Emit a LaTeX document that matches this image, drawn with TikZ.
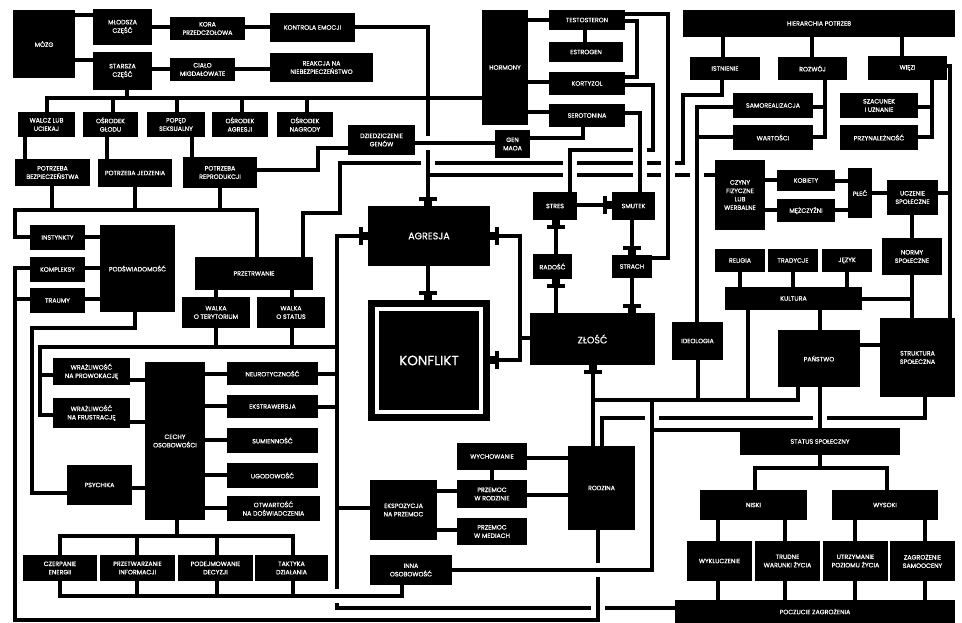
\documentclass[tikz,border=0pt]{standalone}
\usepackage{fontspec}
\setmainfont{Poppins}[FakeBold=0.5]
\usetikzlibrary{arrows.meta}
\newcommand\Bx[6]{\pgfmathsetmacro\bxw{#4-#2}\pgfmathsetmacro\bxh{#5-#3}\pgfmathsetmacro\bxx{(#2+#4)/2}\pgfmathsetmacro\bxy{(#3+#5)/2}\node[bx,minimum width=\bxw pt,minimum height=\bxh pt] (#1) at (\bxx,\bxy) {#6};}
\newcommand\hc[3]{\draw[ln] (#1.east |- 0,#3) -- (#2.west |- 0,#3);}
\newcommand\vc[3]{\draw[ln] (#1.south -| #3,0) -- (#2.north -| #3,0);}
\newcommand\brV[2]{\draw[ln,preaction={draw=white,line width=14pt}] (#1,#2) ++(0,-6) -- ++(0,12);}
\newcommand\brH[2]{\draw[ln,preaction={draw=white,line width=14pt}] (#1,#2) ++(-6,0) -- ++(12,0);}
\tikzset{
  bx/.style={fill=black, text=white, align=center, inner sep=0.5pt, font=\fontsize{6.3}{8.4}\selectfont},
  ln/.style={line width=3.8pt, line join=miter},
  arr/.style={-{Rectangle[width=18pt,length=4pt,sep=0pt]Rectangle[width=8pt,length=5pt,sep=0pt]}}
}
\begin{document}
\begin{tikzpicture}[x=1pt,y=-1pt]
\fill[white] (0,0) rectangle (962,623);
\useasboundingbox (0,0) rectangle (962,623);
% ---------- boxes ----------
\Bx{mozg}{13}{10}{75}{78}{MÓZG}
\Bx{mlodsza}{93}{9}{152}{45}{MŁODSZA\\CZĘŚĆ}
\Bx{kora}{170}{17}{245}{40}{KORA\\PRZEDCZOŁOWA}
\Bx{kontrola}{270}{13}{355}{42}{KONTROLA EMOCJI}
\Bx{starsza}{93}{52}{152}{90}{STARSZA\\CZĘŚĆ}
\Bx{cialo}{170}{58}{235}{81}{CIAŁO\\MIGDAŁOWATE}
\Bx{reakcja}{270}{53}{373}{82}{REAKCJA NA\\NIEBEZPIECZEŃSTWO}
\Bx{walcz}{18}{112}{75}{137}{WALCZ LUB\\UCIEKAJ}
\Bx{glod}{83}{112}{138}{137}{OŚRODEK\\GŁODU}
\Bx{poped}{147}{112}{205}{137}{POPĘD\\SEKSUALNY}
\Bx{oagr}{212}{112}{268}{137}{OŚRODEK\\AGRESJI}
\Bx{nagrody}{277}{112}{333}{137}{OŚRODEK\\NAGRODY}
\Bx{pbez}{15}{159}{90}{186}{POTRZEBA\\BEZPIECZEŃSTWA}
\Bx{pjedz}{98}{159}{172}{187}{POTRZEBA JEDZENIA}
\Bx{prep}{183}{157}{257}{188}{POTRZEBA\\REPRODUKCJI}
\Bx{dziedz}{348}{125}{415}{155}{DZIEDZICZENIE\\GENÓW}
\Bx{hormony}{482}{10}{528}{125}{HORMONY}
\Bx{testo}{549}{10}{625}{30}{TESTOSTERON}
\Bx{estro}{549}{42}{623}{62}{ESTROGEN}
\Bx{kortyzol}{549}{72}{625}{95}{KORTYZOL}
\Bx{sero}{549}{104}{625}{127}{SEROTONINA}
\Bx{gen}{495}{130}{530}{158}{GEN\\MAOA}
\Bx{hier}{683}{10}{955}{37}{HIERARCHIA POTRZEB}
\Bx{istn}{690}{57}{760}{80}{ISTNIENIE}
\Bx{rozwoj}{778}{57}{847}{80}{ROZWÓJ}
\Bx{wiezi}{868}{56}{947}{80}{WIĘZI}
\Bx{samo}{733}{93}{813}{118}{SAMOREALIZACJA}
\Bx{wart}{733}{125}{813}{150}{WARTOŚCI}
\Bx{szac}{840}{93}{918}{118}{SZACUNEK\\I UZNANIE}
\Bx{przyn}{840}{125}{918}{150}{PRZYNALEŻNOŚĆ}
\Bx{czyny}{715}{160}{765}{230}{CZYNY\\FIZYCZNE\\LUB\\WERBALNE}
\Bx{kob}{777}{170}{835}{191}{KOBIETY}
\Bx{mez}{777}{199}{835}{222}{MĘŻCZYŹNI}
\Bx{plec}{848}{168}{872}{218}{PŁEĆ}
\Bx{uczenie}{887}{180}{938}{215}{UCZENIE\\SPOŁECZNE}
\Bx{normy}{882}{238}{942}{275}{NORMY\\SPOŁECZNE}
\Bx{religia}{715}{249}{765}{272}{RELIGIA}
\Bx{trad}{768}{249}{818}{272}{TRADYCJE}
\Bx{jezyk}{822}{249}{872}{272}{JĘZYK}
\Bx{kultura}{725}{287}{862}{310}{KULTURA}
\Bx{ideologia}{672}{322}{723}{360}{IDEOLOGIA}
\Bx{panstwo}{778}{330}{860}{387}{PAŃSTWO}
\Bx{struktura}{880}{318}{955}{397}{STRUKTURA\\SPOŁECZNA}
\Bx{status}{740}{428}{900}{455}{STATUS SPOŁECZNY}
\Bx{niski}{700}{490}{807}{520}{NISKI}
\Bx{wysoki}{832}{490}{938}{520}{WYSOKI}
\Bx{wyk}{687}{541}{752}{581}{WYKLUCZENIE}
\Bx{trudne}{755}{541}{820}{581}{TRUDNE\\WARUNKI ŻYCIA}
\Bx{utrz}{823}{541}{888}{581}{UTRZYMANIE\\POZIOMU ŻYCIA}
\Bx{zagr}{890}{541}{955}{581}{ZAGROŻENIE\\SAMOOCENY}
\Bx{poczucie}{675}{600}{955}{623}{POCZUCIE ZAGROŻENIA}
\Bx{instynkty}{30}{225}{85}{250}{INSTYNKTY}
\Bx{kompleksy}{30}{257}{85}{282}{KOMPLEKSY}
\Bx{traumy}{30}{288}{85}{313}{TRAUMY}
\Bx{podsw}{100}{225}{175}{312}{PODŚWIADOMOŚĆ}
\Bx{przetrw}{195}{257}{313}{290}{PRZETRWANIE}
\Bx{wter}{182}{297}{250}{328}{WALKA\\O TERYTORIUM}
\Bx{wstat}{257}{297}{325}{328}{WALKA\\O STATUS}
\Bx{wprow}{53}{358}{130}{385}{WRAŻLIWOŚĆ\\NA PROWOKACJĘ}
\Bx{wfrus}{53}{398}{130}{428}{WRAŻLIWOŚĆ\\NA FRUSTRACJĘ}
\Bx{psych}{67}{465}{132}{505}{PSYCHIKA}
\Bx{cechy}{145}{362}{205}{520}{CECHY\\OSOBOWOŚCI}
\Bx{neuro}{227}{362}{318}{385}{NEUROTYCZNOŚĆ}
\Bx{ekstra}{227}{395}{318}{418}{EKSTRAWERSJA}
\Bx{sumien}{227}{428}{318}{453}{SUMIENNOŚĆ}
\Bx{ugod}{227}{463}{318}{488}{UGODOWOŚĆ}
\Bx{otw}{227}{496}{320}{521}{OTWARTOŚĆ\\NA DOŚWIADCZENIA}
\Bx{czerp}{23}{555}{97}{581}{CZERPANIE\\ENERGII}
\Bx{przetw}{100}{555}{175}{581}{PRZETWARZANIE\\INFORMACJI}
\Bx{podej}{178}{555}{253}{581}{PODEJMOWANIE\\DECYZJI}
\Bx{takt}{255}{555}{328}{581}{TAKTYKA\\DZIAŁANIA}
\Bx{agresja}{368}{206}{490}{266}{{\fontsize{9.5}{11}\selectfont AGRESJA}}
\Bx{konflikt}{368}{300}{490}{421}{{\fontsize{13.5}{15}\selectfont KONFLIKT}}
\Bx{zlosc}{530}{313}{655}{365}{{\fontsize{9.5}{11}\selectfont ZŁOŚĆ}}
\Bx{stres}{533}{192}{577}{220}{STRES}
\Bx{smutek}{612}{192}{655}{220}{SMUTEK}
\Bx{radosc}{533}{254}{572}{279}{RADOŚĆ}
\Bx{strach}{612}{255}{652}{278}{STRACH}
\Bx{ekspo}{370}{480}{437}{540}{EKSPOZYCJA\\NA PRZEMOC}
\Bx{wych}{457}{443}{527}{470}{WYCHOWANIE}
\Bx{prodz}{457}{480}{527}{508}{PRZEMOC\\W RODZINIE}
\Bx{pmed}{457}{518}{527}{545}{PRZEMOC\\W MEDIACH}
\Bx{rodzina}{568}{446}{635}{530}{RODZINA}
\Bx{inna}{370}{555}{452}{585}{INNA\\OSOBOWOŚĆ}
\draw[white, line width=3.5pt] ([shift={(9,9)}]konflikt.north west) rectangle ([shift={(-9,-9)}]konflikt.south east);
% ---------- connectors: top left ----------
\hc{mozg}{mlodsza}{15}
\hc{mozg}{starsza}{60}
\hc{mlodsza}{kora}{27}
\hc{kora}{kontrola}{27}
\hc{starsza}{cialo}{69}
\hc{cialo}{reakcja}{69}
\draw[ln] (starsza.south -| 127,0) -- (127,98);
\draw[ln] (walcz.north -| 47,0) |- (hormony.west |- 0,98);
\draw[ln] (glod.north -| 113,0) -- (113,98);
\draw[ln] (poped.north -| 177,0) -- (177,98);
\draw[ln] (oagr.north -| 242,0) -- (242,98);
\draw[ln] (nagrody.north -| 307,0) -- (307,98);
\vc{walcz}{pbez}{25}
\vc{glod}{pjedz}{107}
\vc{poped}{prep}{192}
\draw[ln] (prep.east |- 0,170) -| (318,148) -- (dziedz.west |- 0,148);
\draw[ln] (dziedz.east |- 0,143) -- (gen.west |- 0,143);
\draw[ln] (sero.south -| 583,0) |- (gen.east |- 0,138);
\draw[ln,arr] (kontrola.east |- 0,27) -| (agresja.north -| 428,0);
% hormones
\hc{hormony}{testo}{20}
\hc{hormony}{kortyzol}{82}
\hc{hormony}{sero}{112}
\vc{testo}{estro}{585}
\draw[ln] (testo.east |- 0,21) -| (637,77) -- (kortyzol.east |- 0,77);
\draw[ln] (testo.east |- 0,14) -| (668,258) -- (strach.east |- 0,258);
\draw[ln] (kortyzol.east |- 0,85) -| (653,150) -| (stres.north -| 570,0);
\draw[ln] (sero.east |- 0,113) -| (smutek.north -| 640,0);
% survival line and aggression line
\draw[ln] (przetrw.north -| 303,0) |- (340,213) |- (683,163) |- (722,95) -- (istn.south -| 722,0);
\draw[ln] (428,175) -- (czyny.west |- 0,175);
% needs bus
\draw[ln] (instynkty.west |- 0,237) -| (15,210) -| (przetrw.north -| 257,0);
\draw[ln] (pbez.south -| 52,0) -- (52,210);
\draw[ln] (pjedz.south -| 135,0) -- (135,210);
\draw[ln] (prep.south -| 220,0) -- (220,210);
\hc{instynkty}{podsw}{237}
\hc{kompleksy}{podsw}{268}
\hc{traumy}{podsw}{299}
\draw[ln] (kompleksy.west |- 0,268) -| (15,620) -| (rodzina.south -| 598,0);
\draw[ln] (traumy.west |- 0,299) -- (15,299);
\draw[ln] (podsw.south -| 135,0) |- (32,328) |- (psych.west |- 0,493);
\vc{przetrw}{wter}{216}
\vc{przetrw}{wstat}{292}
\draw[ln] (wter.south -| 216,0) -- (216,347);
\draw[ln] (wstat.south -| 292,0) -- (292,347);
\draw[ln] (wfrus.west |- 0,415) -| (40,347) -- (337,347);
\draw[ln] (40,375) -- (wprow.west |- 0,375);
\draw[ln] (neuro.east |- 0,374) -- (337,374);
\draw[ln] (ekstra.east |- 0,407) -- (337,407);
\draw[ln] (ekspo.west |- 0,508) -- (337,508);
\draw[ln,arr] (poczucie.west |- 0,608) -| (337,236) -- (agresja.west |- 0,236);
% personality
\hc{wprow}{cechy}{380}
\hc{wfrus}{cechy}{422}
\hc{psych}{cechy}{488}
\hc{cechy}{neuro}{374}
\hc{cechy}{ekstra}{406}
\hc{cechy}{sumien}{440}
\hc{cechy}{ugod}{475}
\hc{cechy}{otw}{508}
\draw[ln] (cechy.south -| 177,0) -- (177,536);
\draw[ln] (czerp.north -| 60,0) |- (293,536) -- (takt.north -| 293,0);
\draw[ln] (przetw.north -| 137,0) -- (137,536);
\draw[ln] (podej.north -| 217,0) -- (217,536);
\draw[ln] (czerp.south -| 60,0) |- (402,596) -- (inna.south -| 402,0);
\draw[ln] (przetw.south -| 137,0) -- (137,596);
\draw[ln] (podej.south -| 217,0) -- (217,596);
\draw[ln] (takt.south -| 293,0) -- (293,596);
% violence / family
\hc{ekspo}{prodz}{491}
\hc{ekspo}{pmed}{530}
\hc{wych}{rodzina}{458}
\hc{prodz}{rodzina}{495}
\vc{wych}{prodz}{492}
% emotions
\draw[ln,arr] (zlosc.west |- 0,338) -| (520,236) -- (agresja.east |- 0,236);
\draw[ln,arr] (520,338) |- (konflikt.east |- 0,360);
\draw[ln,arr] (agresja.south -| 428,0) -- (konflikt.north -| 428,0);
\draw[ln,arr] (stres.east |- 0,205) -- (smutek.west |- 0,205);
\draw[ln,arr] (smutek.south -| 632,0) -- (strach.north -| 632,0);
\draw[ln,arr] (strach.south -| 632,0) -- (zlosc.north -| 632,0);
\draw[ln,arr] (zlosc.north -| 556,0) -- (radosc.south -| 556,0);
\draw[ln,arr] (radosc.north -| 556,0) -- (stres.south -| 556,0);
% right side
\vc{hier}{istn}{723}
\vc{hier}{rozwoj}{812}
\vc{hier}{wiezi}{902}
\draw[ln] (rozwoj.south -| 825,0) |- (wart.east |- 0,137);
\draw[ln] (825,107) -- (samo.east |- 0,107);
\draw[ln] (wiezi.south -| 932,0) |- (przyn.east |- 0,137);
\draw[ln] (932,107) -- (szac.east |- 0,107);
\draw[ln] (wiezi.east |- 0,66) -| (struktura.north -| 950,0);
\draw[ln] (950,193) -- (uczenie.east |- 0,193);
\draw[ln] (samo.west |- 0,107) -| (ideologia.north -| 697,0);
\draw[ln] (697,137) -- (wart.west |- 0,137);
\hc{czyny}{kob}{180}
\hc{czyny}{mez}{210}
\hc{kob}{plec}{181}
\hc{mez}{plec}{210}
\hc{plec}{uczenie}{193}
\vc{uczenie}{normy}{912}
\draw[ln] (normy.south -| 912,0) -- (struktura.north -| 912,0);
\draw[ln] (912,299) -- (kultura.east |- 0,299);
\vc{religia}{kultura}{740}
\vc{trad}{kultura}{793}
\vc{jezyk}{kultura}{847}
\vc{kultura}{panstwo}{820}
\hc{panstwo}{struktura}{345}
\draw[ln] (kultura.south -| 748,0) |- (593,400);
\draw[ln] (ideologia.south -| 698,0) -- (698,400);
\draw[ln] (panstwo.south -| 798,0) |- (748,400);
\draw[ln,arr] (rodzina.north -| 593,0) -- (zlosc.south -| 593,0);
\draw[ln] (652,400) |- (inna.east |- 0,570);
\draw[ln] (652,430) -- (status.west |- 0,430);
\draw[ln] (struktura.south -| 925,0) |- (602,418) -- (rodzina.north -| 602,0);
\vc{panstwo}{status}{820}
\draw[ln] (status.south -| 820,0) -- (820,468);
\draw[ln] (niski.north -| 755,0) |- (887,468) -- (wysoki.north -| 887,0);
\vc{niski}{wyk}{718}
\vc{niski}{trudne}{785}
\vc{wysoki}{utrz}{855}
\vc{wysoki}{zagr}{925}
\vc{wyk}{poczucie}{718}
\vc{trudne}{poczucie}{785}
\vc{utrz}{poczucie}{855}
\vc{zagr}{poczucie}{925}
% ---------- crossings ----------
\brH{428}{143}
\brV{428}{163}
\brV{570}{163}
\brV{570}{175}
\brV{640}{150}
\brV{640}{163}
\brV{640}{175}
\brV{668}{163}
\brV{668}{175}
\brV{697}{175}
\brV{820}{418}
\brV{652}{418}
\brH{598}{570}
\brV{598}{608}
\brH{337}{596}
\end{tikzpicture}
\end{document}
